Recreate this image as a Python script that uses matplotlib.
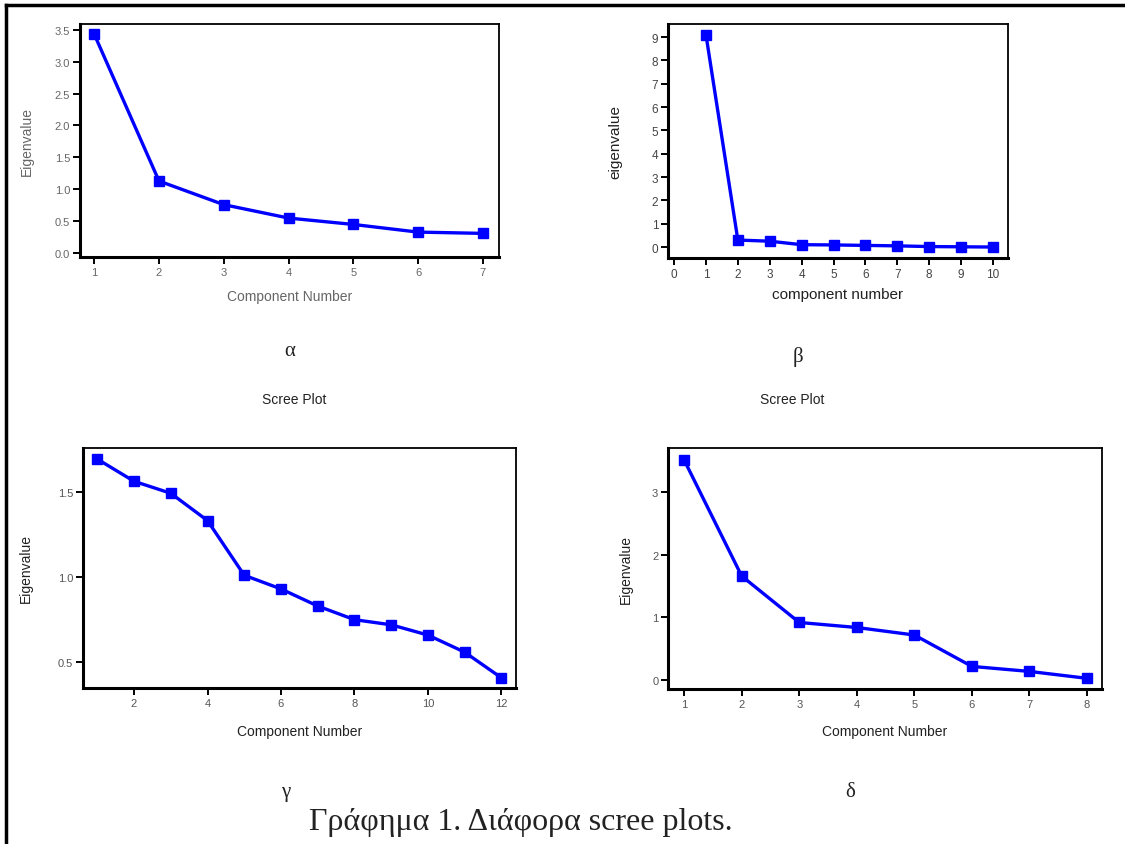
import numpy as np
import matplotlib
matplotlib.use("Agg")
import matplotlib.pyplot as plt
from matplotlib.lines import Line2D

# eigenvalues
comp_a = [1, 2, 3, 4, 5, 6, 7]
eig_a = [3.43, 1.13, 0.76, 0.55, 0.45, 0.33, 0.31]

comp_b = [1, 2, 3, 4, 5, 6, 7, 8, 9, 10]
eig_b = [9.1, 0.3, 0.25, 0.1, 0.09, 0.07, 0.05, 0.02, 0.01, 0.0]

comp_g = [1, 2, 3, 4, 5, 6, 7, 8, 9, 10, 11, 12]
eig_g = [1.69, 1.56, 1.49, 1.33, 1.01, 0.93, 0.83, 0.75, 0.72, 0.66, 0.56, 0.41]

comp_d = [1, 2, 3, 4, 5, 6, 7, 8]
eig_d = [3.51, 1.66, 0.92, 0.84, 0.72, 0.22, 0.14, 0.03]

W, H = 1125, 845
fig = plt.figure(figsize=(W / 100, H / 100), dpi=100)
fig.patch.set_facecolor("white")

sans = ["Liberation Sans", "DejaVu Sans"]
serif = ["Liberation Serif", "DejaVu Serif"]


def px_rect(l, t, r, b):
    return [l / W, 1 - b / H, (r - l) / W, (b - t) / H]


def scree(rect, x, y, xlim, ylim, xticks, yticks, yfmt, xlabel, ylabel,
          xlab_y, ylab_x, col="#555555", tcol="#555555", fs=8, lfs=10):
    l, t, r, b = rect
    ax = fig.add_axes(px_rect(*rect))
    ax.plot(x, y, "-s", color="#0000ff", lw=2.4, ms=6.5, mec="#0000ff")
    ax.set_xlim(*xlim)
    ax.set_ylim(*ylim)
    ax.set_xticks(xticks)
    ax.set_yticks(yticks)
    ax.set_yticklabels([yfmt.format(v) for v in yticks])
    for s in ["left", "bottom"]:
        ax.spines[s].set_linewidth(2.2)
    for s in ["top", "right"]:
        ax.spines[s].set_linewidth(1.3)
    ax.tick_params(direction="out", length=5, width=1.4, labelsize=fs,
                   labelcolor=tcol, pad=2)
    for lab in ax.get_xticklabels() + ax.get_yticklabels():
        lab.set_family(sans)
    ax.set_xlabel(xlabel, fontsize=lfs, color=col, family=sans)
    ax.set_ylabel(ylabel, fontsize=lfs, color=col, family=sans)
    # label positions in axes fractions, taken from pixel positions
    ax.xaxis.set_label_coords(0.5, -(xlab_y - b) / (b - t))
    ax.yaxis.set_label_coords(-(l - ylab_x) / (r - l), 0.5)
    return ax


scree((80, 25, 499, 258), comp_a, eig_a, (0.78, 7.25), (-0.06, 3.59),
      comp_a, [0.0, 0.5, 1.0, 1.5, 2.0, 2.5, 3.0, 3.5], "{:.1f}",
      "Component Number", "Eigenvalue", 290, 34, col="#666666", tcol="#666666")

scree((668, 25, 1008, 259), comp_b, eig_b, (-0.19, 10.47), (-0.47, 9.56),
      list(range(0, 11)), list(range(0, 10)), "{:d}",
      "component number", "eigenvalue", 288, 622, col="#222222",
      tcol="#444444", fs=8.5, lfs=11)

scree((83, 449, 516, 689), comp_g, eig_g, (0.61, 12.4), (0.35, 1.755),
      [2, 4, 6, 8, 10, 12], [0.5, 1.0, 1.5], "{:.1f}",
      "Component Number", "Eigenvalue", 725, 33, col="#222222")

scree((668, 449, 1102, 690), comp_d, eig_d, (0.72, 8.26), (-0.14, 3.70),
      comp_d, [0, 1, 2, 3], "{:d}",
      "Component Number", "Eigenvalue", 725, 633, col="#222222")

# panel letters and headings
for txt, xp, yp in [("α", 290, 352), ("β", 798, 357), ("γ", 286, 793), ("δ", 850, 793)]:
    fig.text(xp / W, 1 - yp / H, txt, family=serif, fontsize=15,
             ha="center", va="center", color="#222222")
for xp in [294, 792]:
    fig.text(xp / W, 1 - 400 / H, "Scree Plot", family=sans, fontsize=10,
             ha="center", va="center", color="#222222")

fig.text(521 / W, 1 - 823 / H, "Γράφημα 1. Διάφορα scree plots.", family=serif,
         fontsize=23, ha="center", va="center", color="#222222")

# page frame (left and top edges)
fig.add_artist(Line2D([6 / W, 6 / W], [0, 1 - 6 / H], color="black", lw=2.5,
                      transform=fig.transFigure))
fig.add_artist(Line2D([6 / W, 1], [1 - 6 / H, 1 - 6 / H], color="black", lw=2.5,
                      transform=fig.transFigure))

fig.savefig("out.png", dpi=100)
